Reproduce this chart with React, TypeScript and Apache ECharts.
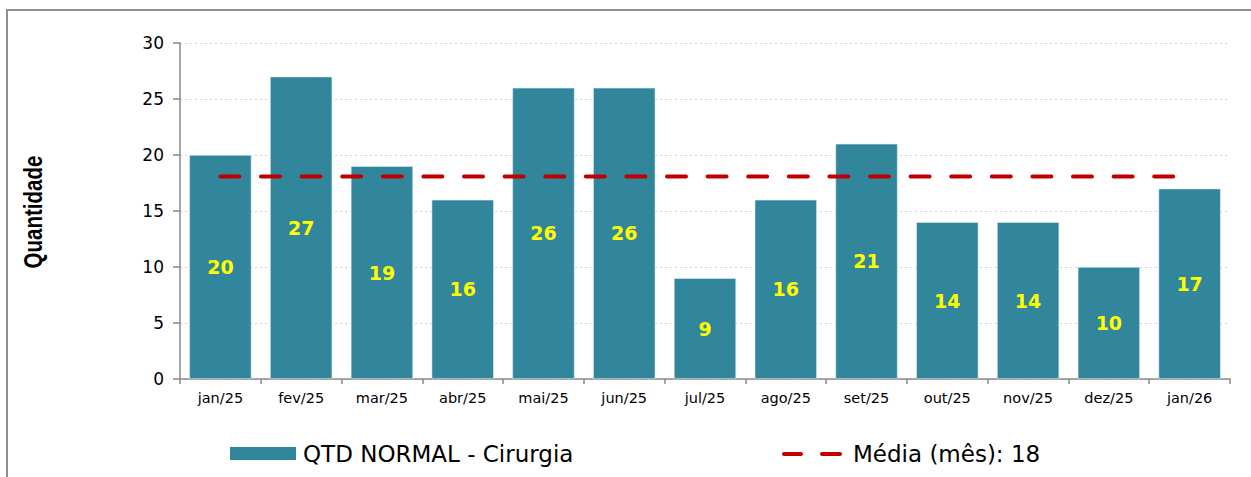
import React, { useEffect, useRef } from "react";
import * as echarts from "echarts";

const categories = ["jan/25", "fev/25", "mar/25", "abr/25", "mai/25", "jun/25", "jul/25", "ago/25", "set/25", "out/25", "nov/25", "dez/25", "jan/26"];
const qtdNormal = [20, 27, 19, 16, 26, 26, 9, 16, 21, 14, 14, 10, 17];
const mediaMes = [18.08, 18.08, 18.08, 18.08, 18.08, 18.08, 18.08, 18.08, 18.08, 18.08, 18.08, 18.08, 18.08];
const barName = "QTD NORMAL - Cirurgia";
const lineName = "Média (mês): 18";
const yAxisTitle = "Quantidade";

export default function App() {
  const ref = useRef<HTMLDivElement>(null);
  useEffect(() => {
    if (!ref.current) return;
    const chart = echarts.init(ref.current, null, { renderer: "svg" });
    const dashStyle = { stroke: "#C00000", lineWidth: 4, lineCap: "round" as const };
    chart.setOption({
      animation: false,
      backgroundColor: "#ffffff",
      grid: { left: 180, right: 21, top: 43, bottom: 98, containLabel: false },
      graphic: [
        {
          type: "rect",
          shape: { x: 7, y: 10, width: 1300, height: 500 },
          style: { fill: "none", stroke: "#8f8f8f", lineWidth: 2 },
          silent: true,
        },
        {
          type: "text",
          x: 33,
          y: 212,
          rotation: Math.PI / 2,
          scaleX: 0.82,
          style: {
            text: yAxisTitle,
            fontFamily: "Liberation Sans, Arial",
            fontWeight: "bold",
            fontSize: 25,
            fill: "#000000",
            align: "center",
            verticalAlign: "middle",
          },
        },
        {
          type: "line",
          shape: { x1: 784, y1: 454, x2: 801, y2: 454 },
          style: dashStyle,
          silent: true,
          z: 10,
        },
        {
          type: "line",
          shape: { x1: 822, y1: 454, x2: 840, y2: 454 },
          style: dashStyle,
          silent: true,
          z: 10,
        },
      ],
      legend: [
        {
          left: 225,
          top: 437,
          itemWidth: 66,
          itemHeight: 13,
          icon: "rect",
          data: [{ name: barName, itemStyle: { color: "#31869B", borderWidth: 0 } }],
          textStyle: { fontFamily: "DejaVu Sans", fontSize: 23, color: "#000000", padding: [0, 0, 0, 2] },
          selectedMode: false,
        },
        {
          left: 779,
          top: 437,
          itemWidth: 60,
          itemHeight: 13,
          icon: "rect",
          data: [{ name: lineName, itemStyle: { color: "rgba(0,0,0,0)", borderWidth: 0 } }],
          textStyle: { fontFamily: "DejaVu Sans", fontSize: 23, color: "#000000", padding: [0, 0, 0, 4] },
          selectedMode: false,
        },
      ],
      xAxis: {
        type: "category",
        data: categories,
        axisLine: { show: true, lineStyle: { color: "#8a8a8a", width: 1.5 } },
        axisTick: { show: true, length: 5, alignWithLabel: false, lineStyle: { color: "#8a8a8a", width: 1.5 } },
        axisLabel: { fontFamily: "DejaVu Sans", fontSize: 14.5, color: "#000000", margin: 11 },
        splitLine: { show: false },
      },
      yAxis: {
        type: "value",
        min: 0,
        max: 30,
        interval: 5,
        axisLine: { show: true, lineStyle: { color: "#8a8a8a", width: 1.5 } },
        axisTick: { show: true, length: 7, lineStyle: { color: "#8a8a8a", width: 1.5 } },
        axisLabel: { fontFamily: "DejaVu Sans", fontSize: 17, color: "#000000", margin: 16 },
        splitLine: { show: true, lineStyle: { color: "#d0d0d0", width: 1.2, type: [2, 3] } },
      },
      series: [
        {
          name: barName,
          type: "bar",
          data: qtdNormal,
          barCategoryGap: "23%",
          itemStyle: { color: "#31869B", borderColor: "#dfeef2", borderWidth: 0.6 },
          label: {
            show: true,
            position: "inside",
            color: "#FFFF00",
            fontFamily: "DejaVu Sans",
            fontWeight: "bold",
            fontSize: 19,
          },
          z: 2,
        },
        {
          name: lineName,
          type: "line",
          data: mediaMes,
          symbol: "none",
          lineStyle: { color: "#C00000", width: 4, type: [19, 21.6], cap: "round" },
          itemStyle: { color: "#C00000" },
          z: 5,
        },
      ],
    });
    return () => chart.dispose();
  }, []);
  return (
    <div
      ref={ref}
      style={{ position: "absolute", left: 0, top: 0, width: 1251, height: 477 }}
    />
  );
}
